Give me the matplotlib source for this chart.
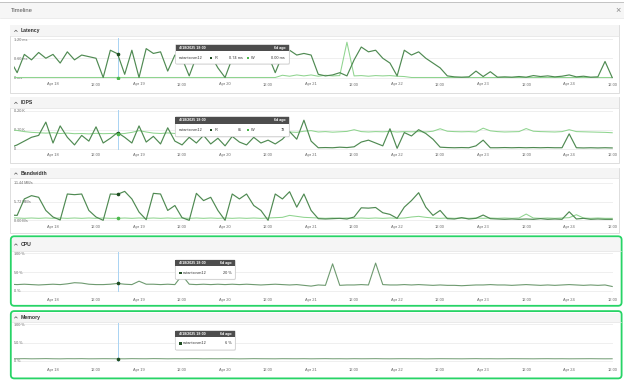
import numpy as np
import matplotlib
matplotlib.use('Agg')
import matplotlib.pyplot as plt
from matplotlib.patches import Rectangle, FancyBboxPatch

plt.rcParams['font.family'] = ['Liberation Sans', 'DejaVu Sans']

# ---------------- data ----------------
hours = np.arange(-12, 157, 2)          # hours since Apr 18 00:00 (2-hour samples)
tick_hours = list(range(0, 157, 12))
tick_labels = ['Apr 18', '12:00', 'Apr 19', '12:00', 'Apr 20', '12:00', 'Apr 21',
               '12:00', 'Apr 22', '12:00', 'Apr 23', '12:00', 'Apr 24', '12:00']

latency_r = [0.55, 0.15, 0.72, 0.55, 0.78, 0.60, 0.72, 0.45, 0.80, 0.55,
             0.70, 0.65, 0.60, 0.00, 0.85, 0.74, 0.10, 0.85, 0.00, 0.90,
             0.75, 0.80, 0.20, 0.70, 0.60, 0.05, 0.65, 0.50, 0.70, 0.30,
             0.00, 0.60, 0.75, 0.55, 0.80, 0.60, 0.70, 0.15, 0.70, 0.85,
             0.70, 0.75, 0.70, 0.10, 0.05, 0.08, 0.15, 0.05, 0.55, 0.95,
             0.80, 0.85, 0.60, 0.45, 0.05, 0.85, 0.70, 0.80, 0.60, 0.45,
             0.30, 0.05, 0.02, 0.01, 0.02, 0.20, 0.03, 0.18, 0.01, 0.02,
             0.01, 0.03, 0.01, 0.06, 0.03, 0.05, 0.02, 0.04, 0.08, 0.02,
             0.04, 0.01, 0.02, 0.50, 0.00]
latency_w = [0.00, 0.00, 0.00, 0.00, 0.00, 0.00, 0.00, 0.00, 0.00, 0.00,
             0.00, 0.00, 0.00, 0.00, 0.00, 0.00, 0.00, 0.00, 0.00, 0.00,
             0.00, 0.00, 0.00, 0.00, 0.00, 0.00, 0.00, 0.00, 0.00, 0.00,
             0.00, 0.00, 0.00, 0.00, 0.00, 0.00, 0.00, 0.00, 0.07, 0.04,
             0.08, 0.05, 0.08, 0.04, 0.07, 0.05, 0.06, 1.10, 0.05, 0.06,
             0.04, 0.06, 0.05, 0.06, 0.04, 0.03, 0.00, 0.00, 0.00, 0.00,
             0.00, 0.00, 0.00, 0.00, 0.00, 0.00, 0.00, 0.00, 0.00, 0.00,
             0.00, 0.00, 0.00, 0.00, 0.00, 0.00, 0.00, 0.00, 0.00, 0.00,
             0.00, 0.00, 0.00, 0.00, 0.00]

iops_r = [5, 20, 40, 60, 70, 140, 30, 120, 60, 20,
          70, 40, 115, 30, 55, 85, 60, 30, 120, 35,
          65, 25, 110, 40, 20, 60, 30, 70, 25, 55,
          15, 65, 35, 20, 60, 30, 45, 25, 50, 90,
          50, 150, 40, 5, 6, 5, 8, 6, 10, 35,
          45, 30, 15, 105, 2, 85, 67, 100, 80, 50,
          8, 6, 5, 6, 5, 15, 45, 5, 5, 6,
          5, 6, 5, 6, 5, 6, 5, 5, 78, 5,
          4, 5, 4, 5, 4]
iops_w = [100, 96, 90, 86, 84, 82, 84, 80, 82, 79,
          80, 78, 81, 79, 80, 78, 80, 86, 95, 88,
          82, 80, 83, 80, 82, 80, 79, 81, 80, 82,
          79, 80, 81, 79, 82, 80, 81, 83, 85, 88,
          86, 92, 95, 88, 90, 87, 89, 91, 100, 90,
          88, 90, 89, 91, 88, 90, 89, 90, 88, 92,
          105, 92, 90, 89, 90, 88, 108, 94, 90, 88,
          89, 90, 106, 92, 90, 89, 88, 90, 100, 90,
          89, 88, 87, 86, 84]

bw_r = [1.6, 1.5, 6.5, 7.5, 7.0, 3.0, 1.0, 0.1, 8.0, 7.8,
        8.0, 3.0, 1.0, 0.0, 8.0, 7.9, 8.8, 6.5, 2.5, 0.2,
        8.2, 8.0, 3.0, 4.5, 0.8, 0.0, 8.2, 6.0, 7.0, 3.0,
        0.0, 8.0, 6.5, 8.0, 4.5, 3.0, 0.0, 8.0, 6.5, 8.7,
        4.0, 8.0, 3.0, 0.5, 0.4, 0.5, 0.6, 0.4, 1.0, 3.8,
        3.7, 3.9, 2.3, 1.8, 0.6, 4.0, 6.0, 8.4, 4.0, 1.5,
        3.0, 0.5, 0.4, 0.8, 0.4, 0.6, 1.6, 0.5, 0.4, 0.3,
        0.4, 0.3, 0.4, 0.3, 0.5, 0.3, 0.4, 0.3, 2.6, 0.4,
        0.6, 0.3, 0.4, 0.3, 0.3]
bw_w = [0.8, 0.7, 0.6, 0.7, 0.6, 0.7, 0.6, 0.7, 0.6, 0.7,
        0.6, 0.7, 0.6, 0.7, 0.6, 0.6, 0.7, 0.6, 0.7, 0.6,
        0.7, 0.6, 0.7, 0.6, 0.7, 0.6, 0.7, 0.6, 0.7, 0.6,
        0.7, 0.6, 0.7, 0.6, 0.7, 0.6, 0.7, 0.8, 0.9, 1.5,
        1.2, 0.9, 0.8, 0.7, 0.6, 0.7, 0.6, 0.7, 0.6, 0.7,
        0.6, 0.7, 0.6, 0.7, 0.6, 0.7, 1.0, 1.2, 0.9, 0.7,
        0.6, 0.7, 0.6, 0.7, 0.6, 0.7, 0.6, 0.7, 0.6, 0.7,
        0.6, 0.7, 1.9, 0.7, 0.6, 0.7, 0.6, 0.7, 0.8, 1.7,
        0.7, 0.6, 0.7, 0.6, 0.6]

cpu = [18, 17, 18, 17, 16, 17, 18, 17, 19, 22,
       21, 18, 17, 17, 18, 20, 18, 17, 26, 18,
       18, 17, 18, 17, 42, 18, 17, 18, 17, 18,
       17, 18, 17, 18, 17, 16, 17, 18, 17, 16,
       17, 15, 13, 16, 15, 72, 15, 16, 16, 17,
       16, 74, 17, 16, 16, 17, 16, 17, 16, 15,
       16, 15, 15, 14, 15, 16, 16, 17, 16, 16,
       15, 16, 17, 16, 15, 16, 15, 16, 17, 16,
       15, 16, 15, 16, 12]
memory = [6.2, 6.0, 6.3, 5.9, 6.1, 6.4, 6.0, 5.8, 6.2, 6.1,
          6.3, 5.9, 6.0, 6.2, 6.1, 6.0, 5.9, 6.3, 6.1, 6.0,
          6.4, 6.2, 5.9, 6.1, 6.0, 6.2, 6.3, 5.9, 6.1, 6.0,
          6.2, 6.1, 5.8, 6.0, 6.3, 6.1, 6.0, 5.9, 6.2, 6.1,
          6.0, 6.2, 5.9, 6.1, 6.3, 6.0, 6.1, 5.9, 6.2, 6.0,
          6.1, 6.3, 6.0, 5.9, 6.1, 6.2, 6.0, 6.1, 5.8, 6.0,
          6.2, 6.1, 6.0, 5.9, 6.1, 6.3, 6.0, 6.1, 5.9, 6.0,
          6.2, 6.1, 6.0, 5.9, 6.1, 6.2, 6.0, 6.1, 5.9, 6.0,
          6.1, 6.2, 6.0, 5.9, 6.0]

hover_hour = 18
hover_title = '4/18/2025 18:00'
hover_age = '6d ago'
vm_name = 'nutanixcvm12'

# ---------------- style ----------------
R_LINE = '#4f8a52'
W_LINE = '#8fd48f'
R_SQ = '#1f4d22'
W_SQ = '#4cb84c'
CPU_LINE = '#6e9a70'
GREEN = '#27d466'
BLUE = '#a9d3f3'
TXT = '#6a6a6a'

W, H = 624, 381
fig = plt.figure(figsize=(W / 100, H / 100), dpi=100)
bg = fig.add_axes([0, 0, 1, 1])
bg.set_xlim(0, W); bg.set_ylim(H, 0); bg.axis('off')

# top bar
bg.add_patch(Rectangle((0, 1.8), W, 1.6, fc='#c4c4c4', ec='none'))
bg.add_patch(Rectangle((0, 3.4), W, 14.2, fc='#f6f6f6', ec='none'))
bg.plot([0, W], [17.6, 17.6], color='#e4e4e4', lw=0.5)
bg.text(11, 10.6, 'Timeline', fontsize=4.2, color='#555555', va='center')
bg.text(617.5, 10.4, '×', fontsize=6.5, color='#888888', ha='center', va='center')


def panel(y0, y1, yh, title, green=False):
    x0, x1 = (12, 620.5) if green else (9.5, 619)
    bg.add_patch(Rectangle((x0, y0), x1 - x0, y1 - y0, fc='white',
                           ec='none' if green else '#d8d8d8', lw=0.6))
    bg.add_patch(Rectangle((x0 + 0.3, y0 + 0.3), x1 - x0 - 0.6, yh - y0 - 0.3,
                           fc='#f5f5f5', ec='none'))
    bg.plot([x0, x1], [yh, yh], color='#e2e2e2', lw=0.5)
    yc = (y0 + yh) / 2 + 0.3
    bg.plot([14.6, 15.9, 17.2], [yc + 0.7, yc - 0.6, yc + 0.7], color='#555555', lw=0.5)
    bg.text(20.5, yc, title, fontsize=3.7, fontweight='bold', color='#333333', va='center')
    if green:
        bg.add_patch(FancyBboxPatch((10.8, y0 - 1.2), 610.8, y1 - y0 + 2.0,
                                    boxstyle='round,pad=0,rounding_size=3.5',
                                    fc='none', ec=GREEN, lw=1.3))


panel(25, 93, 36, 'Latency')
panel(96.7, 163.3, 108.3, 'IOPS')
panel(168, 233.3, 178.3, 'Bandwidth')
panel(237.5, 305, 250.7, 'CPU', green=True)
panel(312.3, 377.6, 321.7, 'Memory', green=True)

X0, X1 = 13.5, 612.5
PX0, PXH = 53.0, 3.5846      # pixel of Apr 18 00:00, pixels per hour
HL, HR = (X0 - PX0) / PXH, (X1 - PX0) / PXH
idx = list(hours).index(hover_hour)


def make_ax(top_px, zero_px, vmax, yt, ylab, tick_px):
    m = 0.03
    ppu = (zero_px - top_px) / vmax
    bottom_px = zero_px + m * vmax * ppu
    top_ax = top_px - m * vmax * ppu
    ax = fig.add_axes([X0 / W, 1 - bottom_px / H, (X1 - X0) / W, (bottom_px - top_ax) / H])
    ax.set_facecolor('none')
    ax.set_xlim(HL, HR)
    ax.set_ylim(-m * vmax, vmax * (1 + m))
    for s in ax.spines.values():
        s.set_visible(False)
    ax.set_yticks(yt)
    ax.set_yticklabels(ylab)
    ax.tick_params(axis='y', length=0, pad=-0.6, labelsize=2.7, labelcolor=TXT)
    for lab in ax.get_yticklabels():
        lab.set_horizontalalignment('left')
    ax.yaxis.grid(True, color='#e9e9e9', lw=0.5)
    ax.set_axisbelow(True)
    ax.set_xticks(tick_hours)
    ax.set_xticklabels(tick_labels)
    pad = max(0.0, (tick_px - bottom_px - 2.0) * 0.72)
    ax.tick_params(axis='x', length=0, pad=pad, labelsize=2.9, labelcolor=TXT)
    return ax


# Latency
ax = make_ax(39, 77.5, 1.2, [0, 0.6, 1.2], ['0 ms', '0.60 ms', '1.20 ms'], 84.5)
ax.axvline(hover_hour, color=BLUE, lw=0.7, zorder=1)
ax.plot(hours, latency_w, color=W_LINE, lw=0.75, zorder=2)
ax.plot(hours, latency_r, color=R_LINE, lw=0.85, zorder=3)
ax.plot([hover_hour], [latency_r[idx]], 'o', ms=1.6, color=R_SQ, zorder=4)
ax.plot([hover_hour], [latency_w[idx]], 'o', ms=1.6, color=W_SQ, zorder=4)

# IOPS
ax = make_ax(110.7, 148.7, 200, [0, 100, 200], ['0', '0.10 K', '0.20 K'], 155.3)
ax.axvline(hover_hour, color=BLUE, lw=0.7, zorder=1)
ax.plot(hours, iops_w, color=W_LINE, lw=0.75, zorder=2)
ax.plot(hours, iops_r, color=R_LINE, lw=0.85, zorder=3)
ax.plot([hover_hour], [iops_r[idx]], 'o', ms=1.6, color=R_SQ, zorder=4)
ax.plot([hover_hour], [iops_w[idx]], 'o', ms=1.6, color=W_SQ, zorder=4)

# Bandwidth
ax = make_ax(182.7, 220.3, 11.44, [0, 5.72, 11.44], ['0.00 B/s', '5.72 MB/s', '11.44 MB/s'], 226.7)
ax.plot(hours, bw_w, color=W_LINE, lw=0.75, zorder=2)
ax.plot(hours, bw_r, color=R_LINE, lw=0.85, zorder=3)
ax.plot([hover_hour], [bw_r[idx]], 'o', ms=1.6, color=R_SQ, zorder=4)
ax.plot([hover_hour], [bw_w[idx]], 'o', ms=1.6, color=W_SQ, zorder=4)

# CPU
ax = make_ax(253.3, 291, 100, [0, 50, 100], ['0 %', '50 %', '100 %'], 300)
ax.axvline(hover_hour, color=BLUE, lw=0.7, zorder=1)
ax.plot(hours, cpu, color=CPU_LINE, lw=0.8, zorder=3)
ax.plot([hover_hour], [cpu[idx]], 'o', ms=1.6, color=R_SQ, zorder=4)

# Memory
ax = make_ax(324, 361, 100, [0, 50, 100], ['0 %', '50 %', '100 %'], 370)
ax.axvline(hover_hour, color=BLUE, lw=0.7, zorder=1)
ax.plot(hours, memory, color=CPU_LINE, lw=0.7, zorder=3)
ax.plot([hover_hour], [memory[idx]], 'o', ms=1.6, color=R_SQ, zorder=4)

# ---------------- tooltips (overlay) ----------------
ov = fig.add_axes([0, 0, 1, 1])
ov.set_xlim(0, W); ov.set_ylim(H, 0); ov.axis('off')
ov.set_facecolor('none')
FS = 2.8


def tip_frame(x0, x1, y0, yh, y1):
    ov.add_patch(FancyBboxPatch((x0 + 0.6, y0 + 0.8), x1 - x0, y1 - y0,
                                boxstyle='round,pad=0,rounding_size=1.2',
                                fc='#000000', ec='none', alpha=0.08))
    ov.add_patch(FancyBboxPatch((x0, y0), x1 - x0, y1 - y0,
                                boxstyle='round,pad=0,rounding_size=1.2',
                                fc='white', ec='#c8c8c8', lw=0.5))
    ov.add_patch(Rectangle((x0, y0), x1 - x0, yh - y0, fc='#4d4d4d', ec='none'))
    yc = (y0 + yh) / 2
    ov.text(x0 + 3.5, yc, hover_title, color='white', fontsize=FS - 0.2,
            fontweight='bold', va='center')
    ov.text(x1 - 3.5, yc, hover_age, color='white', fontsize=FS - 0.2,
            fontweight='bold', va='center', ha='right')


def two_series_body(x0, yb, rtxt, wtxt):
    ov.text(x0 + 3.5, yb, vm_name, fontsize=FS, color='#333333', va='center')
    ov.add_patch(Rectangle((209.5, yb - 1.3), 2.6, 2.6, fc=R_SQ, ec='none'))
    ov.text(214.3, yb, 'R', fontsize=FS, color='#333333', va='center')
    ov.text(242.5, yb, rtxt, fontsize=FS, color='#333333', va='center', ha='right')
    ov.add_patch(Rectangle((246.5, yb - 1.3), 2.6, 2.6, fc=W_SQ, ec='none'))
    ov.text(251.3, yb, 'W', fontsize=FS, color='#333333', va='center')
    ov.text(284.5, yb, wtxt, fontsize=FS, color='#333333', va='center', ha='right')


def one_series_body(x0, x1, yb, vtxt):
    ov.add_patch(Rectangle((x0 + 3.6, yb - 1.3), 2.6, 2.6, fc=R_SQ, ec='none'))
    ov.text(x0 + 7.6, yb, vm_name, fontsize=FS, color='#333333', va='center')
    ov.text(x1 - 3.5, yb, vtxt, fontsize=FS, color='#333333', va='center', ha='right')


tip_frame(175.5, 289.3, 44.5, 51.0, 64.0)
two_series_body(175.5, 58.0, f'{latency_r[idx]:.2f} ms', f'{latency_w[idx]:.2f} ms')

tip_frame(175.3, 289.3, 116.7, 123.7, 136.7)
two_series_body(175.3, 130.2, f'{iops_r[idx]}', f'{iops_w[idx]}')

tip_frame(175.3, 235.3, 260.0, 266.2, 279.3)
one_series_body(175.3, 235.3, 272.8, f'{cpu[idx]} %')

tip_frame(175.3, 235.3, 330.7, 336.9, 350.0)
one_series_body(175.3, 235.3, 343.4, f'{memory[idx]:.0f} %')

fig.savefig('out.png', dpi=100)
